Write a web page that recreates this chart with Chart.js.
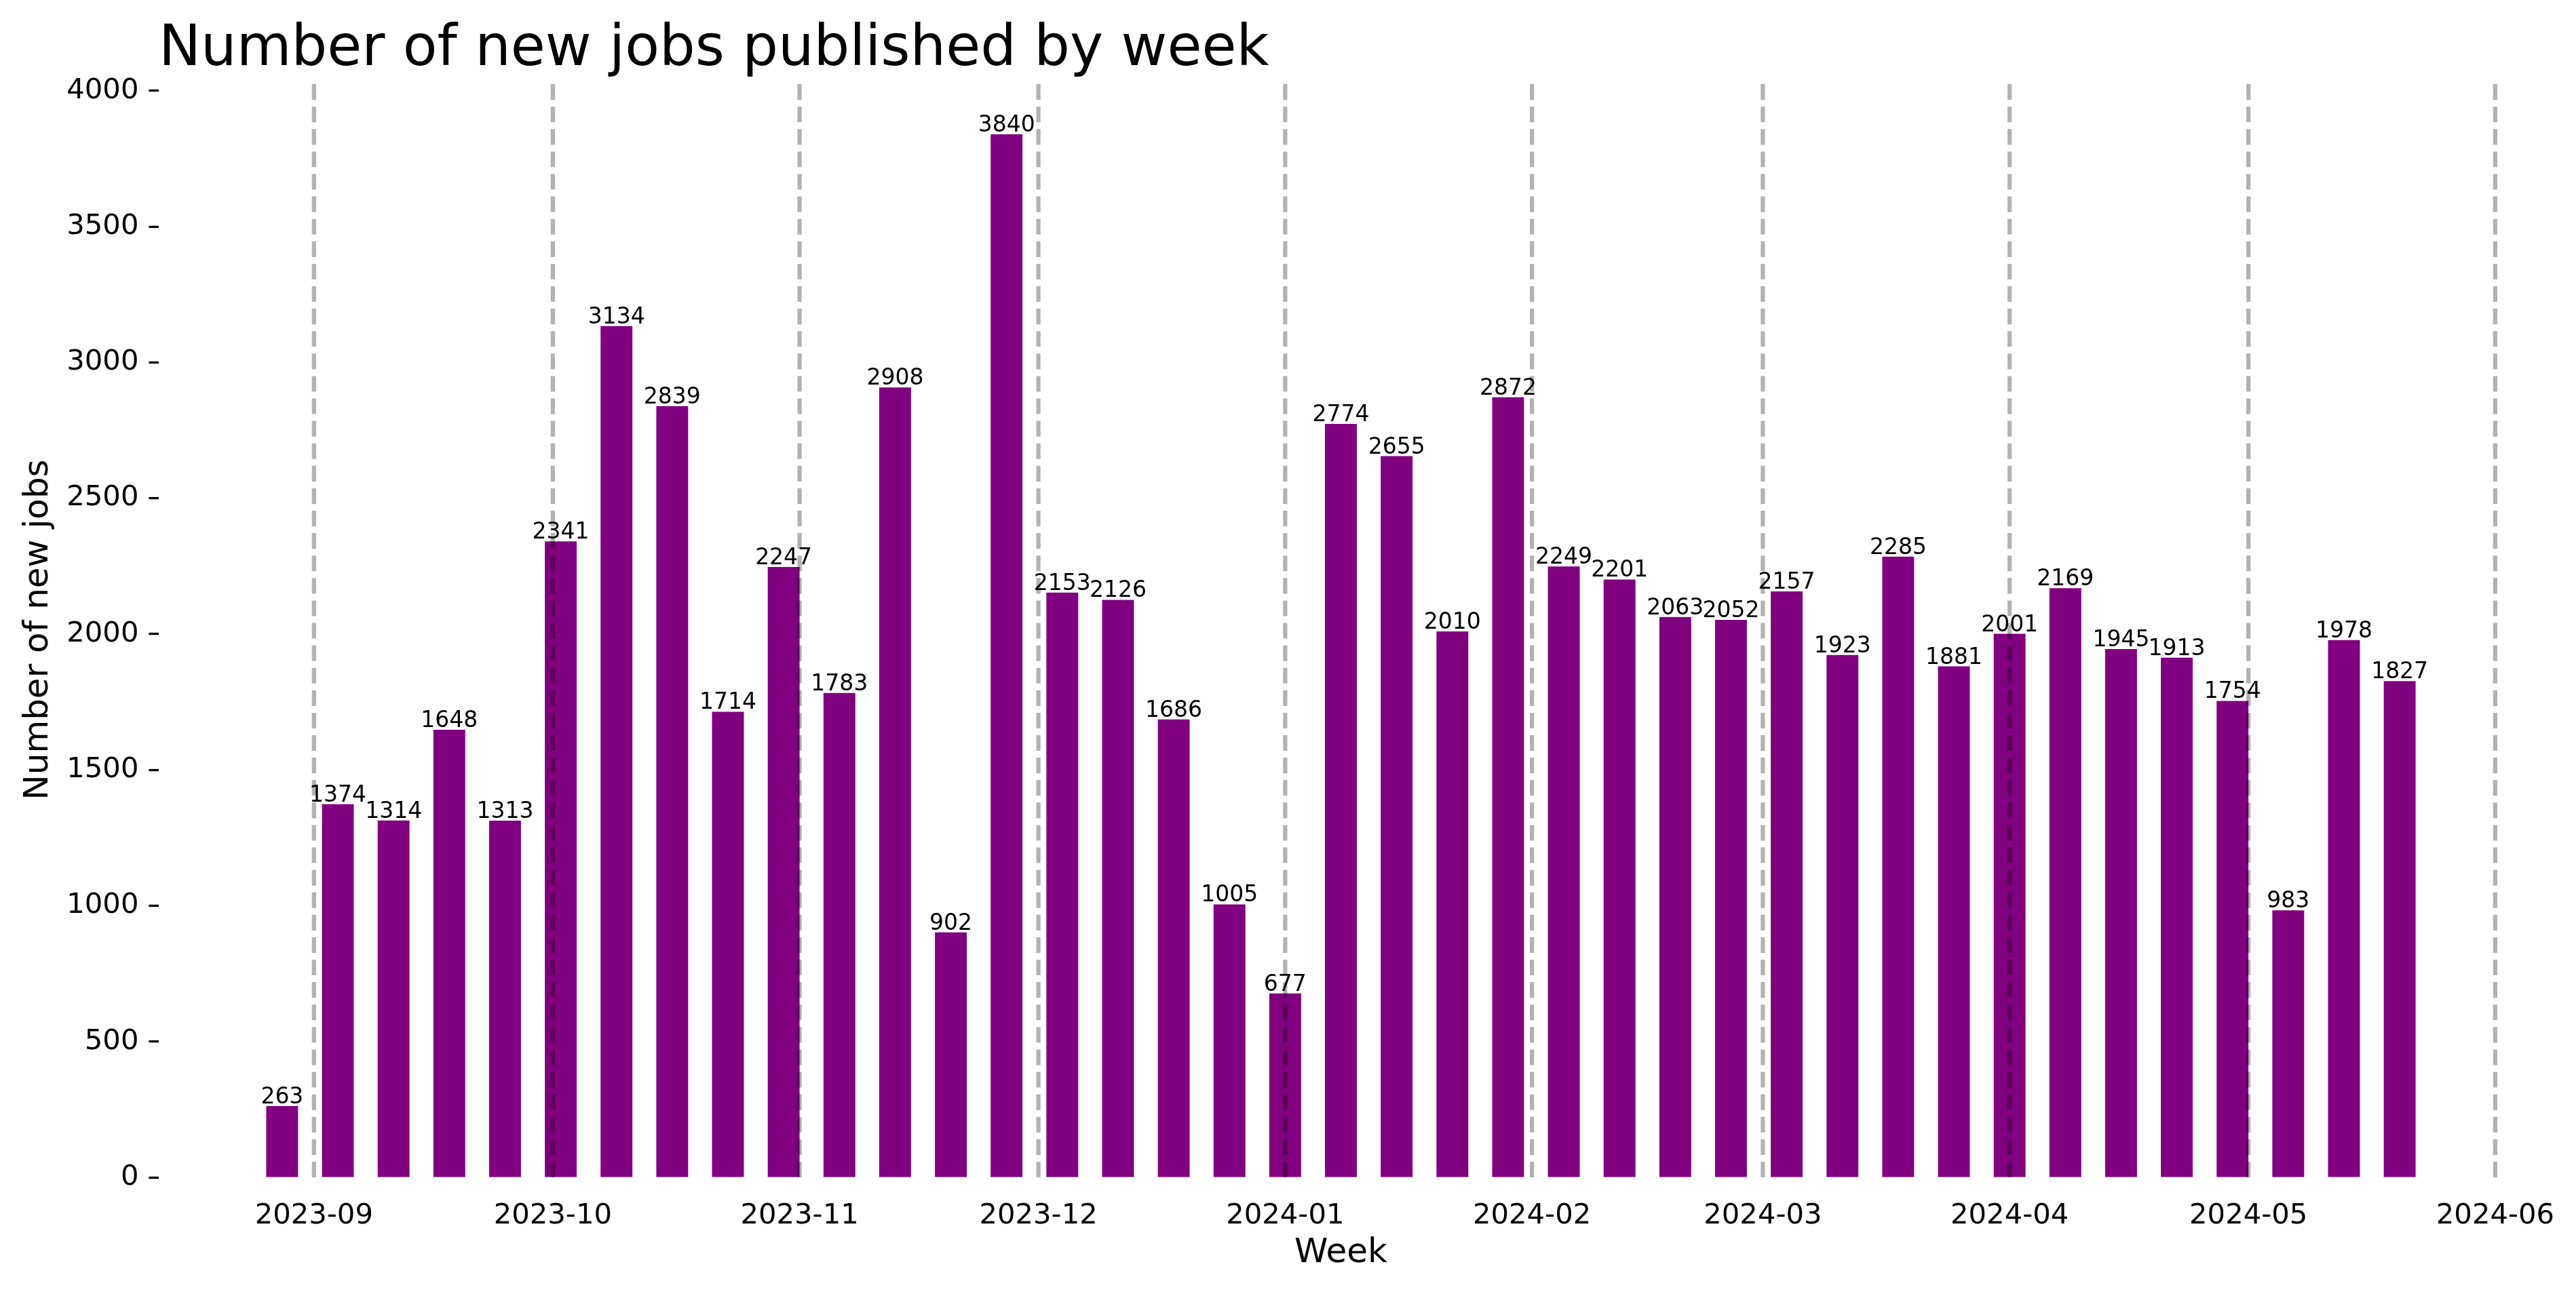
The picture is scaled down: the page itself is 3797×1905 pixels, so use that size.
<!DOCTYPE html>
<html>
<head>
<meta charset="utf-8">
<script src="https://cdn.jsdelivr.net/npm/chart.js@4/dist/chart.umd.min.js"></script>
<style>
  html, body { margin: 0; padding: 0; background: #fff; }
  canvas { display: block; }
</style>
</head>
<body>
<canvas id="jobs" width="3797" height="1905"></canvas>
<script>
// weekly buckets (Monday of each week)
const weeks = [
  '2023-08-28', '2023-09-04', '2023-09-11', '2023-09-18', '2023-09-25',
  '2023-10-02', '2023-10-09', '2023-10-16', '2023-10-23', '2023-10-30',
  '2023-11-06', '2023-11-13', '2023-11-20', '2023-11-27',
  '2023-12-04', '2023-12-11', '2023-12-18', '2023-12-25',
  '2024-01-01', '2024-01-08', '2024-01-15', '2024-01-22', '2024-01-29',
  '2024-02-05', '2024-02-12', '2024-02-19', '2024-02-26',
  '2024-03-04', '2024-03-11', '2024-03-18', '2024-03-25',
  '2024-04-01', '2024-04-08', '2024-04-15', '2024-04-22', '2024-04-29',
  '2024-05-06', '2024-05-13', '2024-05-20'
]
const newJobs = [
  263, 1374, 1314, 1648, 1313,
  2341, 3134, 2839, 1714, 2247,
  1783, 2908, 902, 3840,
  2153, 2126, 1686, 1005,
  677, 2774, 2655, 2010, 2872,
  2249, 2201, 2063, 2052,
  2157, 1923, 2285, 1881,
  2001, 2169, 1945, 1913, 1754,
  983, 1978, 1827
]
const monthStarts = [
  '2023-09-01', '2023-10-01', '2023-11-01', '2023-12-01', '2024-01-01',
  '2024-02-01', '2024-03-01', '2024-04-01', '2024-05-01', '2024-06-01'
]
const monthLabels = [
  '2023-09', '2023-10', '2023-11', '2023-12', '2024-01',
  '2024-02', '2024-03', '2024-04', '2024-05', '2024-06'
]
const yTicks = [0, 500, 1000, 1500, 2000, 2500, 3000, 3500, 4000]

Chart.defaults.font.family = '"DejaVu Sans", sans-serif'
Chart.defaults.color = '#000'

const DAY = 86400000
const epoch = Date.parse(monthStarts[0] + 'T00:00:00Z')
const toDay = s => (Date.parse(s + 'T00:00:00Z') - epoch) / DAY

const weekDays = weeks.map(toDay)
const monthDays = monthStarts.map(toDay)

// bars are 4 days wide, axis gets matplotlib-like 5% margins
const barDays = 4
const lo = weekDays[0] - barDays / 2
const hi = weekDays[weekDays.length - 1] + barDays / 2
const xMin = lo - 0.05 * (hi - lo)
const xMax = hi + 0.05 * (hi - lo)
const yMax = Math.max(...newJobs) * 1.05

const overlay = {
  id: 'overlay',
  afterDatasetsDraw(chart) {
    const { ctx, chartArea: { top, bottom, left }, scales: { x } } = chart
    const meta = chart.getDatasetMeta(0)

    ctx.save()
    // value labels over bars
    ctx.font = '33px "DejaVu Sans"'
    ctx.fillStyle = '#000'
    ctx.textAlign = 'center'
    ctx.textBaseline = 'alphabetic'
    meta.data.forEach((bar, i) => {
      ctx.fillText(String(newJobs[i]), bar.x, bar.y - 4)
    })

    // dashed month separators, drawn over the bars
    ctx.strokeStyle = 'rgba(0, 0, 0, 0.3)'
    ctx.lineWidth = 6.25
    ctx.setLineDash([23.1, 10])
    monthDays.forEach(d => {
      const px = x.getPixelForValue(d)
      ctx.beginPath()
      ctx.moveTo(px, bottom)
      ctx.lineTo(px, top)
      ctx.stroke()
    })
    ctx.setLineDash([])

    // title, left aligned with the plot
    ctx.font = '83px "DejaVu Sans"'
    ctx.textAlign = 'left'
    ctx.fillText('Number of new jobs published by week', left, top - 25)
    ctx.restore()
  }
}

new Chart(document.getElementById('jobs'), {
  type: 'bar',
  plugins: [overlay],
  data: {
    datasets: [
      {
        data: weekDays.map((d, i) => ({ x: d, y: newJobs[i] })),
        backgroundColor: '#800080',
        borderWidth: 0,
        barPercentage: 1,
        categoryPercentage: barDays / 7
      }
    ]
  },
  options: {
    responsive: false,
    animation: false,
    layout: { padding: { top: 121, right: 78, left: 0, bottom: 0 } },
    plugins: { legend: { display: false }, tooltip: { enabled: false } },
    scales: {
      x: {
        type: 'linear',
        offset: false,
        min: xMin,
        max: xMax,
        grid: { display: false },
        border: { display: false },
        afterBuildTicks: scale => {
          scale.ticks = monthDays.map(v => ({ value: v }))
        },
        afterFit: scale => {
          scale.height = 169
        },
        ticks: {
          autoSkip: false,
          maxRotation: 0,
          padding: 24,
          font: { size: 41.7 },
          callback: (value, index) => monthLabels[index]
        },
        title: {
          display: true,
          text: 'Week',
          font: { size: 50 },
          padding: { top: 0, bottom: 27 }
        }
      },
      y: {
        min: 0,
        max: yMax,
        grid: {
          drawOnChartArea: false,
          drawTicks: true,
          tickLength: 14.6,
          tickWidth: 3.3,
          tickColor: '#000'
        },
        border: { display: false },
        afterBuildTicks: scale => {
          scale.ticks = yTicks.map(v => ({ value: v }))
        },
        afterFit: scale => {
          scale.width = 234
        },
        ticks: {
          padding: 15,
          font: { size: 41.7 },
          callback: v => String(v)
        },
        title: {
          display: true,
          text: 'Number of new jobs',
          font: { size: 50 },
          padding: { top: 27, bottom: 0 }
        }
      }
    }
  }
})
</script>
</body>
</html>
